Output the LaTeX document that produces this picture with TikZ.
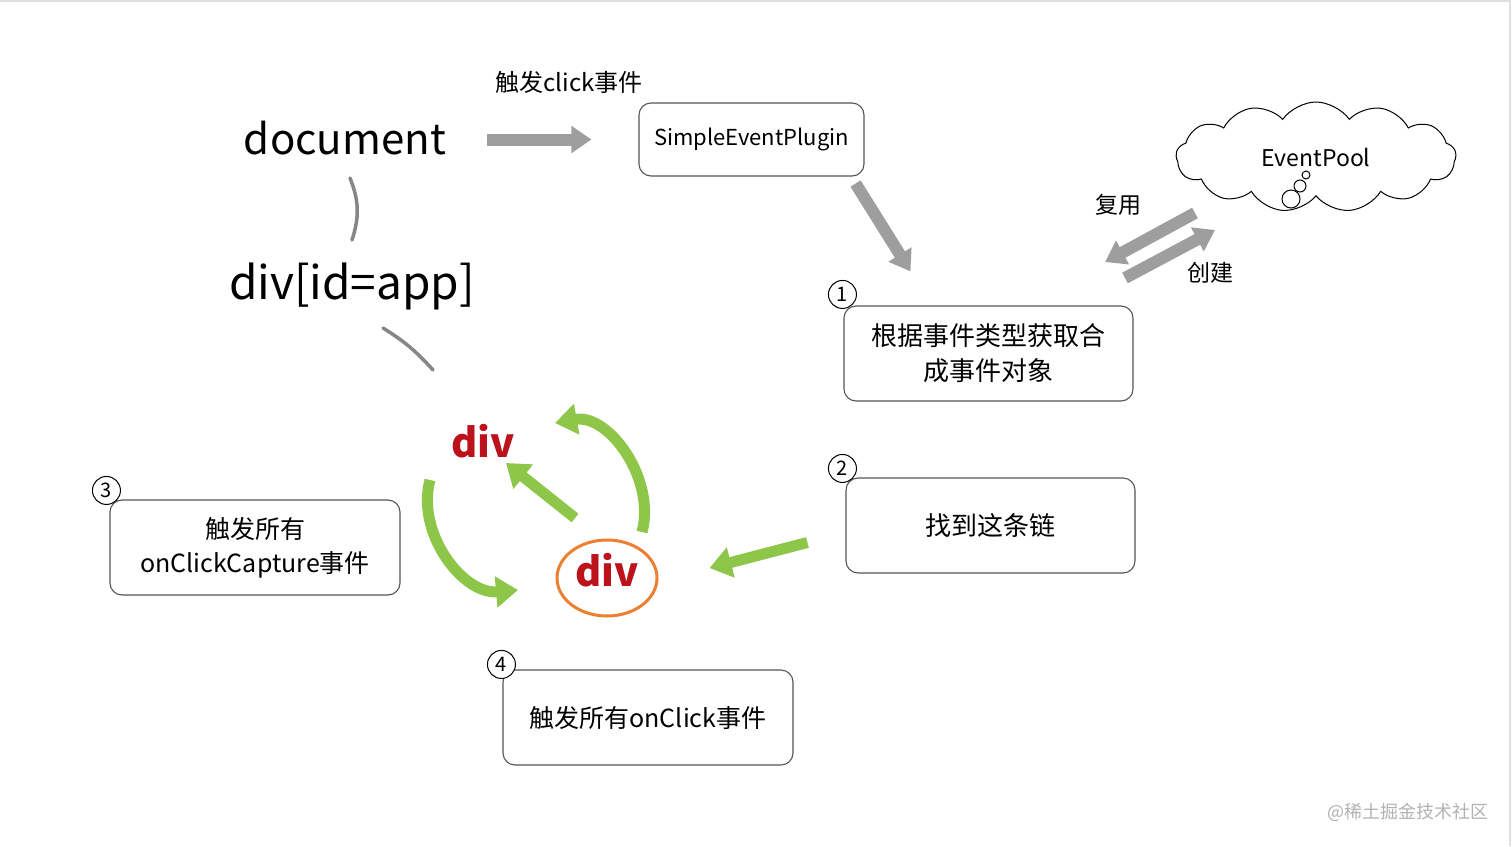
\documentclass[tikz,border=0pt]{standalone}
\usepackage{fontspec}
\setmainfont{Noto Sans CJK SC}
\usepackage{tikz}
\usetikzlibrary{arrows.meta, shapes.geometric, shapes.symbols, positioning}
\definecolor{gray1}{RGB}{158,158,158}
\definecolor{green1}{RGB}{141,198,72}
\definecolor{red1}{RGB}{188,18,28}
\definecolor{orange1}{RGB}{236,128,48}
\definecolor{line1}{RGB}{85,85,85}
\newcommand{\fs}[1]{\fontsize{#1}{1.35\dimexpr #1pt\relax}\selectfont}

\begin{document}
\begin{tikzpicture}[x=1pt, y=-1pt,
    plain/.style={inner sep=2pt, align=center},
    stepbox/.style={draw=line1, line width=1.1pt, rounded corners=12pt, align=center, font=\fs{25}},
    num/.style={draw=black, circle, line width=1pt, minimum size=28pt, inner sep=0pt, font=\fs{20}, fill=white},
    bubble/.style={draw=black, circle, line width=1pt, inner sep=0pt},
    reddiv/.style={text=red1, font=\fs{40}\bfseries, inner sep=2pt},
    stroke/.style={draw=gray1!85!black, line width=3.5pt, line cap=round},
    grayarrow/.style={-{Triangle[length=20pt, width=26pt]}, line width=12pt, draw=gray1},
    greenarrow/.style={-{Triangle[length=22pt, width=30pt]}, line width=11pt, draw=green1}
]
    \useasboundingbox (0,0) rectangle (1512,846);
    % frame of the screenshot
    \draw[black!12, line width=2pt] (0,1) -- (1510,1) -- (1510,846);

    \node[plain, font=\fs{42}, name=doc] at(345,138) {document};
    \node[plain, font=\fs{46}, name=app] at(352,286) {div[id=app]};

    \node[stepbox, font=\fs{22}, minimum width=225pt, minimum height=73pt, name=sep] at(751.5,139.5) {SimpleEventPlugin};
    \node[stepbox, font=\fs{26}, minimum width=289pt, minimum height=95pt, name=box1] at(988.5,353.5) {根据事件类型获取合\\成事件对象};
    \node[stepbox, font=\fs{26}, minimum width=289pt, minimum height=95pt, name=box2] at(990.5,525.5) {找到这条链};
    \node[stepbox, minimum width=290pt, minimum height=95pt, name=box3] at(255,547.5) {触发所有\\onClickCapture事件};
    \node[stepbox, minimum width=290pt, minimum height=95pt, name=box4] at(648,717.5) {触发所有onClick事件};

    \node[num, name=n1] at([shift={(-1,-11)}]box1.north west) {1};
    \node[num, name=n2] at([shift={(-3,-9)}]box2.north west) {2};
    \node[num, name=n3] at([shift={(-3,-9)}]box3.north west) {3};
    \node[num, name=n4] at([shift={(-1,-5)}]box4.north west) {4};

    \node[cloud, cloud puffs=13, cloud puff arc=110, aspect=2.6, draw=black, line width=1pt,
          minimum width=280pt, minimum height=110pt, font=\fs{23}, name=pool] at(1316,157) {EventPool};
    \node[bubble, minimum size=8pt, name=bub1] at(1306,175) {};
    \node[bubble, minimum size=12pt, name=bub2] at(1300,186) {};
    \node[bubble, minimum size=18pt, name=bub3] at(1291,199) {};

    \node[reddiv, name=divtop] at(483,441) {div};
    \node[reddiv, ellipse, draw=orange1, line width=3pt, text depth=16pt, minimum width=100pt, minimum height=76pt, name=divbot] at(607,578) {div};

    \node[plain, font=\fs{24}, name=clicklbl] at(569,82) {触发click事件};
    \node[plain, font=\fs{23}, name=reuse] at(1118,205) {复用};
    \node[plain, font=\fs{23}, name=create] at(1210,273) {创建};

    \node[plain, font=\fs{18}, text=black!30, name=mark] at(1408,812) {@稀土掘金技术社区};

    \draw[stroke] ([shift={(5,40)}]doc.center) to[bend left=20] ([shift={(0,-46)}]app.center);
    \draw[stroke] ([shift={(31,42)}]app.center) to[bend left=8] ([shift={(-50,-71)}]divtop.center);

    \draw[grayarrow] ([shift={(-151,0)}]sep.west) -- ([shift={(-47,0)}]sep.west);
    \draw[grayarrow] ([shift={(-9,7)}]sep.south east) -- ([shift={(-78,-34)}]box1.north);
    \draw[grayarrow] ([shift={(-121,56)}]pool.center) -- ([shift={(-211,105)}]pool.center);
    \draw[grayarrow] ([shift={(-191,121)}]pool.center) -- ([shift={(-101,73)}]pool.center);

    \draw[greenarrow] ([shift={(-38,17)}]box2.west) -- ([shift={(51,-10)}]divbot.east);
    \draw[greenarrow] ([shift={(-32,-60)}]divbot.center) -- ([shift={(23,22)}]divtop.center);
    \draw[greenarrow] ([shift={(35,-46)}]divbot.center) to[out=75, in=10] ([shift={(72,-18)}]divtop.center);
    \draw[greenarrow] ([shift={(-53,39)}]divtop.center) to[out=255, in=185] ([shift={(-89,12)}]divbot.center);
\end{tikzpicture}
\end{document}
